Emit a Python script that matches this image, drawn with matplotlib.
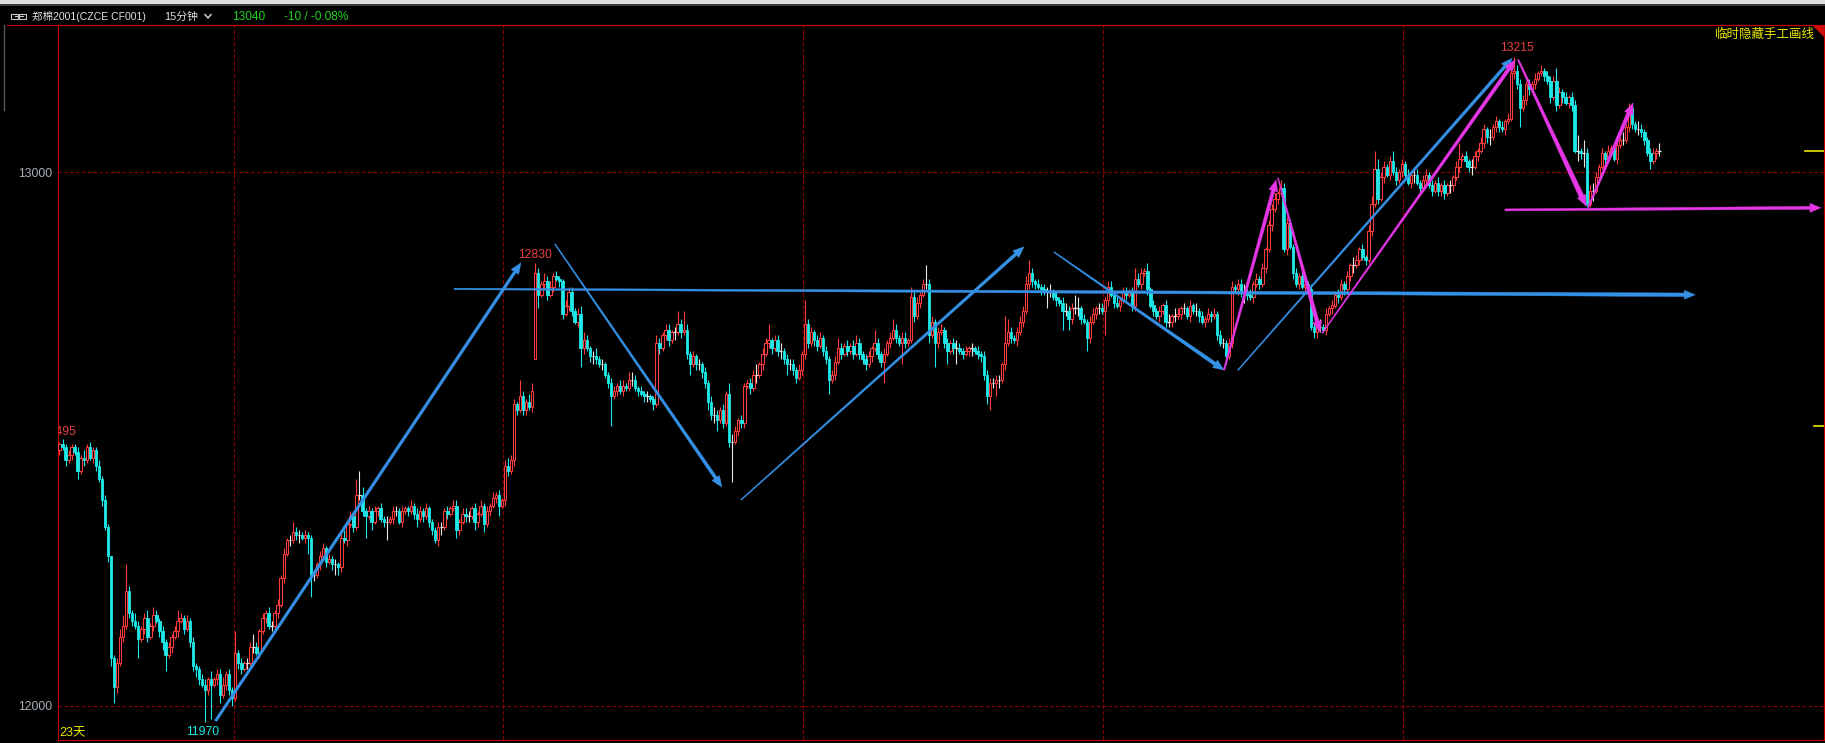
import numpy as np
import matplotlib
matplotlib.use("Agg")
import matplotlib.pyplot as plt
from matplotlib.patches import Polygon, Rectangle
from matplotlib.lines import Line2D

plt.rcParams["font.family"] = ["Liberation Sans", "Noto Sans CJK SC", "DejaVu Sans"]
plt.rcParams["lines.scale_dashes"] = False

# ---------------- data (15 min bars, 23 bars a day) ----------------
CLOSE = [
    12490, 12485, 12460, 12470, 12485, 12475, 12440, 12465, 12460, 12485, 12465, 12480, 12450, 12425, 12385, 12335, 12280, 12090, 12035, 12080, 12130, 12150, 12215,
    12175, 12160, 12150, 12125, 12145, 12165, 12130, 12150, 12170, 12160, 12140, 12120, 12095, 12110, 12130, 12140, 12160, 12165, 12145, 12160, 12120, 12075, 12070,
    12050, 12040, 12030, 12050, 12040, 12050, 12060, 12020, 12040, 12060, 12030, 12015, 12100, 12080, 12070, 12080, 12080, 12110, 12110, 12100, 12140, 12165, 12175,
    12150, 12150, 12175, 12190, 12240, 12285, 12310, 12310, 12325, 12320, 12320, 12315, 12320, 12315, 12245, 12245, 12265, 12280, 12295, 12270, 12275, 12265, 12265,
    12260, 12315, 12310, 12340, 12355, 12335, 12395, 12395, 12365, 12355, 12365, 12345, 12365, 12370, 12350, 12345, 12345, 12350, 12365, 12365, 12345, 12365, 12370,
    12365, 12375, 12360, 12350, 12365, 12355, 12370, 12345, 12330, 12310, 12335, 12335, 12365, 12360, 12370, 12375, 12330, 12345, 12360, 12355, 12355, 12370, 12345,
    12360, 12375, 12340, 12365, 12375, 12390, 12395, 12375, 12385, 12450, 12440, 12460, 12565, 12555, 12580, 12555, 12570, 12560, 12590, 12810, 12770, 12790, 12795,
    12770, 12785, 12805, 12800, 12795, 12735, 12750, 12775, 12740, 12720, 12735, 12670, 12685, 12670, 12655, 12655, 12650, 12640, 12640, 12620, 12605, 12580, 12590,
    12600, 12590, 12600, 12595, 12610, 12610, 12595, 12590, 12585, 12580, 12580, 12575, 12565, 12680, 12670, 12695, 12705, 12685, 12700, 12700, 12715, 12700, 12705,
    12660, 12640, 12655, 12640, 12640, 12625, 12605, 12570, 12545, 12545, 12535, 12555, 12530, 12585, 12495, 12495, 12515, 12535, 12530, 12600, 12605, 12595, 12620,
    12620, 12640, 12660, 12680, 12685, 12670, 12685, 12665, 12665, 12650, 12640, 12640, 12630, 12615, 12630, 12660, 12715, 12680, 12700, 12685, 12675, 12690, 12665,
    12650, 12610, 12620, 12645, 12670, 12660, 12675, 12665, 12675, 12660, 12680, 12660, 12650, 12640, 12655, 12670, 12680, 12660, 12645, 12660, 12680, 12690, 12705,
    12690, 12680, 12690, 12680, 12685, 12765, 12730, 12755, 12770, 12790, 12790, 12695, 12720, 12680, 12700, 12705, 12680, 12665, 12680, 12670, 12670, 12665, 12660,
    12665, 12670, 12670, 12665, 12660, 12655, 12620, 12580, 12605, 12605, 12610, 12610, 12640, 12680, 12700, 12690, 12685, 12700, 12720, 12740, 12790, 12810, 12795,
    12790, 12785, 12780, 12775, 12775, 12775, 12765, 12760, 12755, 12740, 12740, 12725, 12745, 12745, 12745, 12725, 12720, 12690, 12720, 12735, 12745, 12745, 12740,
    12760, 12785, 12770, 12755, 12750, 12760, 12775, 12770, 12775, 12750, 12800, 12790, 12810, 12815, 12780, 12750, 12740, 12730, 12740, 12750, 12720, 12720, 12730,
    12730, 12735, 12745, 12745, 12730, 12750, 12740, 12740, 12730, 12720, 12725, 12735, 12730, 12735, 12695, 12680, 12680, 12655, 12680, 12785, 12780, 12790, 12775,
    12775, 12770, 12765, 12790, 12800, 12790, 12820, 12855, 12900, 12930, 12950, 12960, 12970, 12855, 12905, 12860, 12810, 12790, 12805, 12785, 12790, 12780, 12710,
    12700, 12710, 12710, 12705, 12735, 12745, 12750, 12770, 12765, 12790, 12780, 12805, 12825, 12825, 12835, 12855, 12840, 12835, 12890, 12940, 13005, 12950, 12990,
    13010, 12995, 13020, 13000, 12985, 13000, 13015, 12995, 12980, 12995, 12995, 12980, 12970, 12985, 12995, 12975, 12965, 12980, 12965, 12975, 12960, 12975, 12975,
    12990, 13010, 13025, 13030, 13020, 13010, 13010, 13030, 13040, 13055, 13080, 13065, 13065, 13085, 13095, 13085, 13080, 13095, 13100, 13185, 13190, 13165, 13120,
    13135, 13165, 13155, 13165, 13175, 13185, 13190, 13180, 13170, 13140, 13170, 13125, 13150, 13140, 13130, 13140, 13125, 13040, 13040, 13035, 13035, 12940, 12965,
    12965, 12990, 13010, 13035, 13025, 13040, 13045, 13025, 13050, 13060, 13060, 13085, 13120, 13090, 13080, 13080, 13075, 13060, 13035, 13020, 13035, 13040, 13040,
]
OPEN_FIRST = 12480
OPEN_GAPS = {157: 12650}

UPPER_WICK = [
    5, 10, 5, 10, 5, 5, 10, 5, 15, 5, 10, 5, 5, 10, 5, 10, 5, 0, 5, 10, 15, 20, 50,
    10, 5, 15, 10, 5, 10, 15, 5, 15, 10, 5, 10, 5, 10, 5, 10, 20, 10, 5, 10, 5, 10, 5,
    5, 10, 10, 5, 15, 5, 10, 10, 15, 5, 10, 5, 40, 5, 10, 5, 10, 10, 25, 10, 5, 10, 5,
    10, 10, 5, 10, 5, 10, 5, 10, 20, 10, 10, 5, 10, 5, 5, 10, 5, 10, 10, 5, 10, 5, 10,
    5, 10, 15, 5, 10, 5, 30, 45, 15, 5, 10, 5, 10, 5, 10, 5, 10, 5, 10, 10, 5, 10, 5,
    5, 10, 5, 10, 10, 5, 10, 5, 5, 5, 10, 10, 5, 10, 5, 10, 10, 5, 10, 10, 10, 5, 10,
    5, 10, 5, 10, 5, 10, 5, 10, 5, 10, 15, 10, 10, 5, 30, 10, 5, 15, 15, 20, 10, 5, 15,
    10, 10, 5, 10, 5, 5, 10, 10, 10, 5, 10, 15, 15, 10, 5, 10, 15, 5, 10, 5, 5, 10, 10,
    5, 10, 10, 5, 15, 15, 10, 5, 10, 5, 10, 5, 5, 15, 10, 5, 10, 10, 5, 10, 25, 10, 35,
    10, 5, 10, 5, 10, 5, 10, 5, 10, 15, 10, 5, 10, 5, 20, 15, 10, 5, 10, 5, 5, 10, 10,
    20, 5, 10, 10, 30, 5, 10, 10, 15, 5, 10, 10, 10, 5, 10, 5, 45, 10, 10, 5, 10, 10, 5,
    10, 5, 10, 10, 20, 10, 5, 10, 5, 10, 15, 10, 5, 10, 10, 5, 25, 10, 5, 10, 5, 10, 20,
    10, 5, 10, 10, 5, 20, 10, 10, 5, 10, 35, 10, 10, 5, 10, 10, 5, 10, 5, 10, 15, 10, 5,
    10, 5, 10, 5, 10, 5, 10, 10, 10, 10, 10, 10, 5, 50, 25, 10, 5, 10, 10, 10, 15, 25, 10,
    5, 10, 5, 10, 10, 15, 5, 10, 5, 10, 15, 10, 10, 25, 20, 5, 10, 5, 10, 10, 5, 10, 10,
    5, 10, 10, 5, 10, 5, 10, 10, 5, 10, 20, 10, 10, 5, 15, 5, 10, 5, 10, 5, 10, 15, 5,
    15, 10, 5, 10, 5, 10, 5, 15, 5, 10, 5, 10, 5, 10, 5, 10, 10, 5, 10, 10, 5, 10, 10,
    15, 5, 10, 5, 10, 5, 10, 5, 10, 10, 10, 5, 15, 10, 10, 5, 5, 10, 5, 10, 15, 5, 10,
    5, 10, 15, 5, 10, 5, 10, 5, 10, 10, 5, 10, 5, 15, 10, 5, 10, 5, 10, 15, 35, 20, 10,
    10, 5, 10, 20, 10, 5, 10, 5, 10, 5, 15, 10, 5, 10, 10, 5, 10, 5, 10, 5, 10, 5, 10,
    5, 10, 30, 5, 10, 5, 15, 10, 5, 10, 10, 5, 15, 5, 10, 5, 10, 5, 10, 10, 25, 10, 10,
    10, 5, 10, 5, 10, 5, 10, 5, 10, 10, 10, 25, 10, 5, 10, 5, 10, 10, 30, 5, 25, 10, 10,
    15, 10, 5, 10, 5, 10, 5, 10, 10, 5, 15, 5, 10, 10, 5, 15, 10, 5, 5, 10, 10, 5, 15,
]
LOWER_WICK = [
    10, 5, 10, 5, 10, 5, 15, 5, 10, 5, 5, 10, 10, 5, 10, 5, 10, 15, 30, 10, 5, 10, 5,
    10, 10, 5, 35, 5, 10, 10, 5, 10, 5, 10, 15, 30, 5, 10, 5, 10, 5, 10, 5, 10, 10, 15,
    10, 5, 60, 10, 65, 5, 10, 15, 5, 10, 10, 15, 5, 10, 10, 5, 10, 5, 10, 5, 10, 5, 10,
    5, 10, 5, 10, 5, 10, 5, 10, 5, 10, 15, 5, 10, 30, 40, 10, 5, 10, 5, 10, 5, 10, 20,
    15, 10, 5, 10, 5, 10, 5, 10, 10, 40, 5, 15, 5, 10, 5, 10, 35, 5, 10, 10, 5, 10, 5,
    10, 5, 10, 15, 5, 10, 5, 10, 10, 5, 10, 15, 5, 10, 5, 5, 15, 10, 5, 10, 10, 5, 15,
    10, 5, 15, 5, 10, 5, 10, 20, 5, 10, 10, 5, 10, 10, 5, 10, 10, 5, 10, 0, 25, 5, 10,
    10, 5, 10, 5, 10, 10, 5, 10, 10, 5, 10, 35, 10, 5, 10, 15, 10, 5, 10, 5, 10, 55, 5,
    10, 5, 10, 5, 5, 10, 5, 10, 5, 10, 10, 5, 10, 5, 10, 5, 10, 10, 5, 15, 5, 10, 5,
    10, 20, 5, 10, 10, 10, 10, 15, 10, 15, 20, 5, 10, 5, 10, 75, 5, 10, 10, 10, 5, 10, 5,
    15, 5, 10, 5, 10, 10, 5, 10, 15, 10, 20, 10, 10, 10, 5, 10, 10, 10, 5, 10, 10, 5, 10,
    10, 25, 5, 10, 5, 10, 5, 10, 5, 10, 5, 10, 10, 10, 5, 10, 5, 10, 10, 40, 5, 10, 5,
    10, 5, 40, 10, 5, 5, 10, 5, 10, 5, 10, 15, 5, 45, 10, 5, 10, 25, 5, 10, 30, 5, 10,
    5, 10, 15, 5, 10, 10, 10, 15, 25, 10, 25, 15, 5, 10, 5, 10, 5, 10, 5, 10, 5, 10, 10,
    10, 5, 10, 5, 30, 10, 5, 10, 5, 35, 10, 20, 10, 10, 15, 10, 5, 25, 10, 5, 10, 10, 5,
    45, 10, 5, 10, 5, 10, 5, 10, 5, 10, 10, 5, 10, 5, 10, 5, 10, 5, 10, 5, 10, 10, 10,
    10, 5, 10, 10, 5, 10, 5, 10, 10, 5, 10, 5, 10, 5, 10, 5, 10, 15, 5, 10, 5, 10, 10,
    20, 10, 5, 10, 5, 10, 5, 10, 5, 10, 5, 10, 5, 5, 10, 5, 10, 5, 10, 5, 10, 10, 5,
    10, 10, 10, 5, 10, 5, 10, 5, 10, 5, 10, 5, 10, 15, 5, 10, 5, 10, 5, 10, 5, 10, 5,
    10, 5, 10, 5, 10, 5, 10, 10, 5, 10, 15, 5, 10, 5, 10, 5, 10, 5, 10, 10, 10, 5, 15,
    10, 5, 10, 5, 10, 10, 15, 5, 10, 5, 10, 10, 15, 5, 10, 10, 5, 10, 5, 5, 10, 10, 35,
    5, 10, 10, 5, 10, 5, 5, 10, 5, 10, 5, 10, 5, 10, 5, 10, 10, 5, 20, 10, 25, 5, 5,
    20, 5, 10, 5, 10, 5, 10, 5, 10, 5, 10, 5, 10, 10, 5, 10, 10, 10, 5, 15, 5, 10, 10,
]

DAY_LINES = [57.5, 146.5, 245.5, 344.5, 443.5]
PRICE_LINES = [12000, 13000]

# hand drawn trend lines: ((bar, price), (bar, price))
BLUE_LINES = [
    ((51.5, 11972), (152.3, 12830)),
    ((163.5, 12865), (218.6, 12410)),
    ((224.9, 12386), (318.3, 12860)),
    ((130.2, 12781), (539.8, 12770)),
    ((328.2, 12850), (384.3, 12629)),
    ((388.9, 12629), (479.4, 13213)),
]
PINK_LINES = [
    ((384.3, 12629), (401.5, 12985)),
    ((402.1, 12989), (416.0, 12700)),
    ((416.7, 12698), (480.4, 13210)),
    ((481.4, 13210), (503.8, 12936)),
    ((504.5, 12934), (519.3, 13129)),
    ((477.0, 12929), (581.3, 12933)),
]

HIGH_MARK = (157, 12830)
TOP_MARK = (480, 13215)
LOW_MARK = (48, 11970)
START_MARK = (0, 12495)
RIGHT_MARKS = [13040, 12525]

SYMBOL = "郑棉2001(CZCE CF001)"
PERIOD = "15分钟"
LAST = "13040"
CHANGE = "-10 / -0.08%"
DAYS = "23天"
HIDE_TXT = "临时隐藏手工画线"

# ---------------- styling ----------------
W, H = 1825, 743
RED = "#ff3b3b"
CYAN = "#1fe8e8"
WHITE = "#e6e6e6"
BLUE = "#3591e6"
PINK = "#e536e5"
GRID = "#8a0000"
FRAME = "#c80000"
YELLOW = "#e8e800"
GREEN = "#21d321"


def fx(x):
    return x / W


def fy(y):
    return 1 - y / H


fig = plt.figure(figsize=(W / 100, H / 100), dpi=100, facecolor="black")
ax = fig.add_axes([fx(58), (H - 740) / H, (1824 - 58) / W, (740 - 25) / H])
ax.set_facecolor("black")
ax.set_xlim(-0.495, 582.3)
ax.set_ylim(11936.3, 13275.3)
ax.set_autoscale_on(False)

for s in ax.spines.values():
    s.set_color(FRAME)
    s.set_linewidth(0.8)
ax.set_xticks([])
ax.set_yticks(PRICE_LINES)
ax.set_yticklabels([str(p) for p in PRICE_LINES])
ax.tick_params(axis="y", length=0, pad=4, labelcolor="#a8b0b8", labelsize=8.8)

for p in PRICE_LINES:
    ax.axhline(p, color=GRID, lw=0.8, dashes=(2.6, 1.6), zorder=1)
for b in DAY_LINES:
    ax.axvline(b, color=GRID, lw=0.8, dashes=(3.0, 1.5), zorder=1)

# candles
c = np.array(CLOSE, dtype=float)
n = len(c)
x = np.arange(n)
o = np.concatenate([[OPEN_FIRST], c[:-1]])
for k, v in OPEN_GAPS.items():
    o[k] = v
hi = np.maximum(o, c) + np.array(UPPER_WICK[:n], dtype=float)
lo = np.minimum(o, c) - np.array(LOWER_WICK[:n], dtype=float)
up = c > o
dn = c < o
eq = c == o
bw = 0.8

ax.vlines(x[up], lo[up], hi[up], color=RED, lw=0.8, zorder=2)
ax.vlines(x[dn], lo[dn], hi[dn], color=CYAN, lw=0.8, zorder=2)
ax.vlines(x[eq], lo[eq], hi[eq], color=WHITE, lw=0.8, zorder=2)
ax.bar(x[up], c[up] - o[up], bottom=o[up], width=bw, facecolor="black",
       edgecolor=RED, linewidth=0.75, zorder=3)
ax.bar(x[dn], o[dn] - c[dn], bottom=c[dn], width=bw, facecolor=CYAN,
       edgecolor=CYAN, linewidth=0.6, zorder=3)
ax.hlines(c[eq], x[eq] - bw / 2, x[eq] + bw / 2, color=WHITE, lw=0.9, zorder=3)


def trend(p0, p1, color, w0, w1, head_len=11, head_w=9):
    a = ax.transData.transform(p0)
    b = ax.transData.transform(p1)
    d = b - a
    u = d / np.hypot(*d)
    nv = np.array([-u[1], u[0]])
    base = b - u * head_len
    pts = [a + nv * w0 / 2, base + nv * w1 / 2, base + nv * head_w / 2, b,
           base - nv * head_w / 2, base - nv * w1 / 2, a - nv * w0 / 2]
    pts = ax.transData.inverted().transform(np.array(pts))
    ax.add_patch(Polygon(pts, closed=True, facecolor=color, edgecolor=color,
                         lw=0.3, zorder=5))


blue_w = [(2.6, 2.8), (1.0, 3.2), (1.0, 3.0), (1.5, 3.6), (1.0, 3.6), (1.0, 3.0)]
pink_w = [(1.5, 3.6), (1.0, 4.0), (1.0, 3.6), (1.5, 5.0), (1.5, 4.0), (2.0, 3.0)]
for (p0, p1), (w0, w1) in zip(BLUE_LINES, blue_w):
    trend(p0, p1, BLUE, w0, w1)
for (p0, p1), (w0, w1) in zip(PINK_LINES, pink_w):
    trend(p0, p1, PINK, w0, w1)

# price labels
num_font = dict(fontsize=8.8, family=["Liberation Sans", "DejaVu Sans"])
ax.annotate(str(HIGH_MARK[1]), HIGH_MARK, xytext=(0, 8), textcoords="offset pixels",
            ha="center", va="center", color="#e84040", zorder=6, **num_font)
ax.annotate(str(TOP_MARK[1]), TOP_MARK, xytext=(3, 9), textcoords="offset pixels",
            ha="center", va="center", color="#e84040", zorder=6, **num_font)
ax.annotate(str(LOW_MARK[1]), LOW_MARK, xytext=(-2, -10), textcoords="offset pixels",
            ha="center", va="center", color=CYAN, zorder=6, **num_font)
ax.annotate(str(START_MARK[1]), START_MARK, xytext=(17, 10), textcoords="offset pixels",
            ha="right", va="center", color="#e84040", zorder=6, clip_on=True, **num_font)

for k, p in enumerate(RIGHT_MARKS):
    ax.axhline(p, xmin=0.989 if k == 0 else 0.9945, xmax=1, color=YELLOW, lw=1.2, zorder=6)

# frame / header decorations
fig.patches.append(Rectangle((0, fy(4)), 1, 4 / H, transform=fig.transFigure,
                             facecolor="#dedede", edgecolor="none"))
fig.patches.append(Rectangle((0, fy(5.5)), 1, 1.5 / H, transform=fig.transFigure,
                             facecolor="#3a3a3a", edgecolor="none"))
fig.add_artist(Line2D([fx(7), fx(1824)], [fy(25), fy(25)], color=FRAME, lw=0.8))
fig.add_artist(Line2D([fx(4), fx(4)], [fy(25), fy(110)], color="#555555", lw=1))
fig.patches.append(Polygon([[fx(1812), fy(25)], [fx(1824), fy(25)], [fx(1824), fy(37)]],
                           closed=True, transform=fig.transFigure,
                           facecolor="#d01010", edgecolor="none"))

# link icon
for x0 in (11, 19):
    fig.patches.append(Rectangle((fx(x0), fy(18.5)), 7 / W, 4.5 / H, transform=fig.transFigure,
                                 facecolor="none", edgecolor="#c8c8c8", lw=0.8))
fig.add_artist(Line2D([fx(15), fx(23)], [fy(16.2), fy(16.2)], color="#c8c8c8", lw=0.8))

hdr = dict(va="center")
fig.text(fx(32), fy(16.5), SYMBOL, color="#e0e0e0", fontsize=7.6, **hdr)
fig.text(fx(164), fy(16.5), PERIOD, color="#e0e0e0", fontsize=7.8, **hdr)
fig.add_artist(Line2D([fx(205), fx(208), fx(211)], [fy(14.5), fy(18), fy(14.5)],
                      color="#e0e0e0", lw=1))
fig.text(fx(232), fy(16.5), LAST, color=GREEN, fontsize=8.6, **hdr)
fig.text(fx(284), fy(16.5), CHANGE, color=GREEN, fontsize=8.6, **hdr)

fig.text(fx(1815), fy(34.5), HIDE_TXT, color=YELLOW, fontsize=9, ha="right", va="center")
fig.text(fx(59), fy(733), DAYS, color=YELLOW, fontsize=9, ha="left", va="center")

fig.savefig("out.png", dpi=100, facecolor="black")
